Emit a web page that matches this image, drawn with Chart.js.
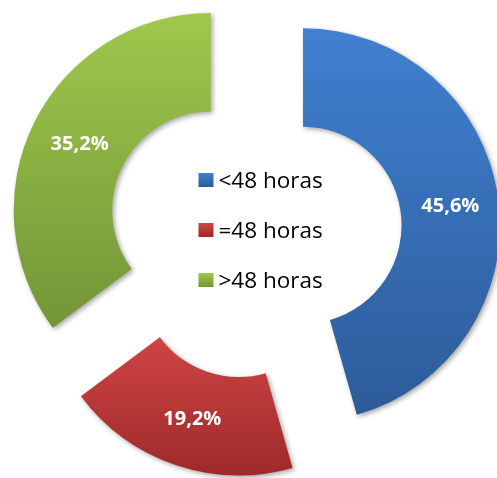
<!DOCTYPE html>
<html>
<head>
<meta charset="utf-8">
<script src="https://cdn.jsdelivr.net/npm/chart.js@4.4.0/dist/chart.umd.min.js"></script>
<style>
html, body { margin: 0; padding: 0; background: #fff; }
#wrap { width: 497px; height: 478px; }
</style>
</head>
<body>
<div id="wrap"><canvas id="myChart" width="497" height="478"></canvas></div>
<script>
let labels = ["<48 horas", "=48 horas", ">48 horas"];
let values = [45.6, 19.2, 35.2];
let value_text = ["45,6%", "19,2%", "35,2%"];
let top_colors = ["#3f80d0", "#d04444", "#9fc84c"];
let bottom_colors = ["#2d5b99", "#9d2a2a", "#739537"];
let explode = 49;

/** vertical gradient over the height of one slice */
function slice_gradient(ctx, arc, i) {
    let ys = [];
    for (let k = 0; k <= 40; k++) {
        let a = arc.startAngle + (arc.endAngle - arc.startAngle) * k / 40;
        ys.push(arc.y + Math.sin(a) * arc.outerRadius);
        ys.push(arc.y + Math.sin(a) * arc.innerRadius);
    }
    let g = ctx.createLinearGradient(0, Math.min(...ys), 0, Math.max(...ys));
    g.addColorStop(0, top_colors[i]);
    g.addColorStop(1, bottom_colors[i]);
    return g;
}

/** pulls every slice out along its middle angle, adds shadow, labels and centre legend */
const explodePlugin = {
    id: 'explode',
    afterDatasetUpdate(chart, args) {
        args.meta.data.forEach((arc, i) => {
            let mid = (arc.startAngle + arc.endAngle) / 2;
            arc.x += Math.cos(mid) * explode;
            arc.y += Math.sin(mid) * explode;
            arc.options = Object.assign({}, arc.options, {
                backgroundColor: slice_gradient(chart.ctx, arc, i)
            });
        });
    },
    beforeDatasetsDraw(chart) {
        let ctx = chart.ctx;
        ctx.save();
        ctx.shadowColor = 'rgba(0,0,0,0.35)';
        ctx.shadowBlur = 5;
        ctx.shadowOffsetX = 2;
        ctx.shadowOffsetY = 2;
    },
    afterDatasetsDraw(chart) {
        let ctx = chart.ctx;
        ctx.restore();
        ctx.save();
        ctx.fillStyle = '#fff';
        ctx.font = 'bold 20px "Open Sans"';
        ctx.textAlign = 'center';
        ctx.textBaseline = 'middle';
        chart.getDatasetMeta(0).data.forEach((arc, i) => {
            let p = arc.tooltipPosition();
            ctx.fillText(value_text[i], p.x + 1, p.y + 1);
        });
        ctx.restore();
    },
    afterDraw(chart) {
        let ctx = chart.ctx;
        let area = chart.chartArea;
        let cx = (area.left + area.right) / 2;
        let cy = (area.top + area.bottom) / 2;
        ctx.save();
        ctx.font = '22.5px "Open Sans"';
        ctx.textBaseline = 'alphabetic';
        ctx.textAlign = 'left';
        labels.forEach((name, i) => {
            let rowY = cy - 52 + i * 50;
            let g = ctx.createLinearGradient(0, rowY - 7, 0, rowY + 7);
            g.addColorStop(0, top_colors[i]);
            g.addColorStop(1, bottom_colors[i]);
            ctx.fillStyle = g;
            ctx.fillRect(cx - 56, rowY - 7, 15, 14);
            ctx.fillStyle = '#000';
            ctx.fillText(name, cx - 36, rowY + 7.5);
        });
        ctx.restore();
    }
};

let ctx = document.getElementById('myChart').getContext('2d');
let myChart = new Chart(ctx, {
    type: 'doughnut',
    data: {
        labels: labels,
        datasets: [{
            data: values,
            backgroundColor: top_colors,
            borderWidth: 0
        }]
    },
    options: {
        responsive: false,
        animation: false,
        radius: 197,
        cutout: '50%',
        layout: { padding: { left: 12, right: 0, top: 11, bottom: 25 } },
        plugins: {
            legend: { display: false },
            tooltip: { enabled: false }
        }
    },
    plugins: [explodePlugin]
});
</script>
</body>
</html>
